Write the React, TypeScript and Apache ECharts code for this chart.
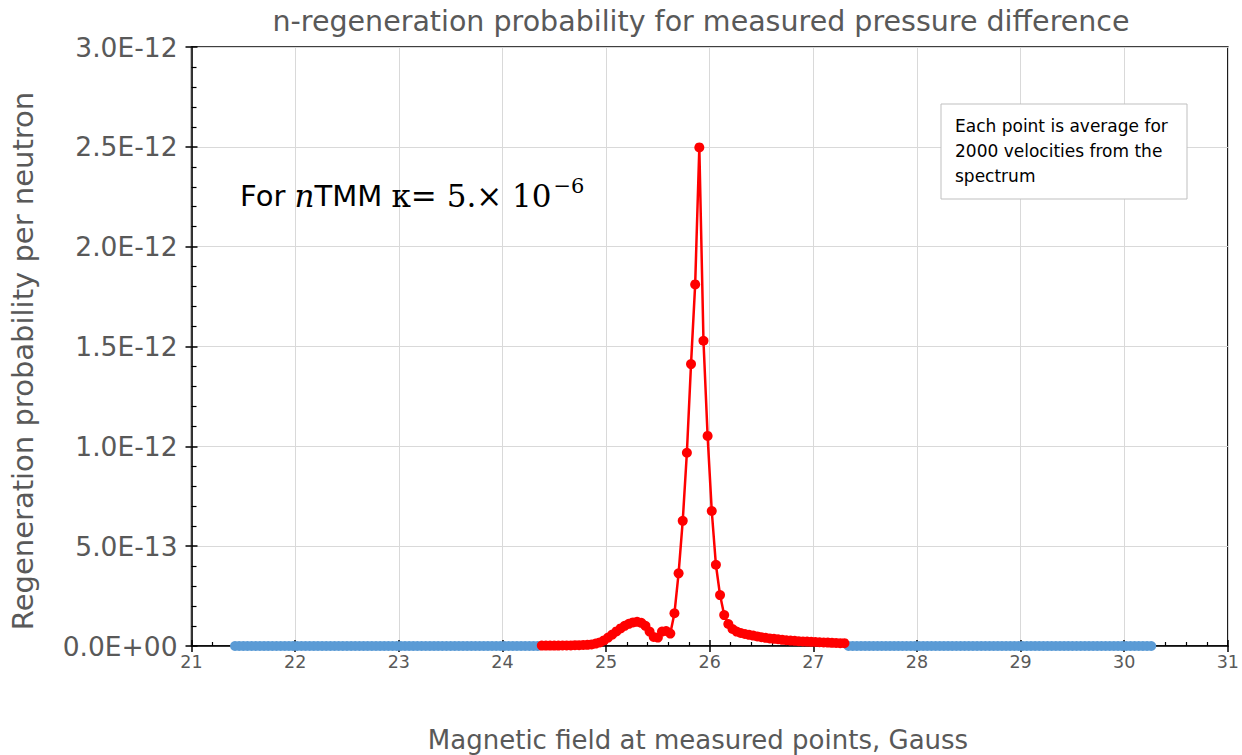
import React, { useEffect, useRef } from "react";
import * as echarts from "echarts";

// Magnetic field grid (Gauss): points every 0.04 G
const fieldStep = 0.04;
const redStart = 24.38;
const blueLeftStart = 21.42;
const blueRightStart = 27.34;

// Regeneration probability per neutron, in units of 1E-12
const redValues = [
  0.002, 0.002, 0.002, 0.002, 0.002, 0.003, 0.003, 0.003, 0.004, 0.004,
  0.005, 0.006, 0.008, 0.012, 0.018, 0.028, 0.042, 0.057, 0.073, 0.088,
  0.101, 0.111, 0.118, 0.121, 0.116, 0.101, 0.072, 0.045, 0.042, 0.072,
  0.075, 0.062, 0.164, 0.364, 0.627, 0.968, 1.412, 1.811, 2.497, 1.529,
  1.052, 0.676, 0.407, 0.255, 0.155, 0.110, 0.085, 0.072, 0.065, 0.060,
  0.056, 0.052, 0.048, 0.044, 0.041, 0.038, 0.036, 0.034, 0.031, 0.029,
  0.027, 0.026, 0.024, 0.023, 0.022, 0.021, 0.020, 0.019, 0.018, 0.017,
  0.016, 0.015, 0.014, 0.014,
];
const blueLeftValues = [
  0, 0, 0, 0, 0, 0, 0, 0, 0, 0, 0, 0, 0, 0, 0, 0, 0, 0, 0, 0, 0, 0, 0, 0, 0,
  0, 0, 0, 0, 0, 0, 0, 0, 0, 0, 0, 0, 0, 0, 0, 0, 0, 0, 0, 0, 0, 0, 0, 0, 0,
  0, 0, 0, 0, 0, 0, 0, 0, 0, 0, 0, 0, 0, 0, 0, 0, 0, 0, 0, 0, 0, 0, 0, 0,
];
const blueRightValues = [
  0, 0, 0, 0, 0, 0, 0, 0, 0, 0, 0, 0, 0, 0, 0, 0, 0, 0, 0, 0, 0, 0, 0, 0, 0,
  0, 0, 0, 0, 0, 0, 0, 0, 0, 0, 0, 0, 0, 0, 0, 0, 0, 0, 0, 0, 0, 0, 0, 0, 0,
  0, 0, 0, 0, 0, 0, 0, 0, 0, 0, 0, 0, 0, 0, 0, 0, 0, 0, 0, 0, 0, 0, 0, 0,
];

const titleText = "n-regeneration probability for measured pressure difference";
const xName = "Magnetic field at measured points, Gauss";
const yName = "Regeneration probability per neutron";
const noteLines = ["Each point is average for", "2000 velocities from the", "spectrum"];

const toPairs = (start: number, vals: number[]) =>
  vals.map((v, i) => [+(start + i * fieldStep).toFixed(2), v]);

const FONT = "DejaVu Sans";
const GREY = "#595959";

export default function App() {
  const ref = useRef<HTMLDivElement>(null);
  useEffect(() => {
    document.body.style.margin = "0";
    const chart = echarts.init(ref.current!, null, { renderer: "svg" });
    const yFmt = (v: number) =>
      v === 0 ? "0.0E+00" : (v * 1e-12).toExponential(1).toUpperCase();
    const blueStyle = {
      type: "line",
      xAxisIndex: 0,
      yAxisIndex: 0,
      symbol: "circle",
      symbolSize: 10,
      itemStyle: { color: "#5B9BD5" },
      lineStyle: { color: "#5B9BD5", width: 2 },
      z: 3,
    };
    chart.setOption({
      animation: false,
      backgroundColor: "#fff",
      title: {
        text: titleText,
        left: 696,
        top: 2,
        textAlign: "center",
        textStyle: { fontFamily: FONT, fontSize: 28.5, fontWeight: "normal", color: GREY },
      },
      grid: {
        left: 191.5,
        right: 14,
        top: 47,
        bottom: 109,
        show: true,
        borderColor: "#000",
        borderWidth: 1.5,
        backgroundColor: "transparent",
      },
      xAxis: [
        {
          type: "value",
          min: 21,
          max: 31,
          interval: 1,
          position: "bottom",
          axisLine: { onZero: false, lineStyle: { color: "#000", width: 1.5 } },
          axisTick: { show: true, inside: false, length: 6, lineStyle: { color: "#000", width: 1.5 } },
          axisLabel: { fontFamily: FONT, fontSize: 17.5, color: GREY, margin: 7 },
          splitLine: { show: true, lineStyle: { color: "#D9D9D9", width: 1 } },
        },
        {
          type: "value",
          min: 21,
          max: 31,
          interval: 1,
          position: "bottom",
          axisLine: { show: false, onZero: false },
          axisTick: { show: true, inside: true, length: 6, lineStyle: { color: "#000", width: 1.5 } },
          minorTick: { show: true, splitNumber: 5, length: 4, lineStyle: { color: "#000", width: 1.2 } },
          axisLabel: { show: false },
          splitLine: { show: false },
        },
      ],
      yAxis: [
        {
          type: "value",
          min: 0,
          max: 3,
          interval: 0.5,
          position: "left",
          axisLine: { show: true, onZero: false, lineStyle: { color: "#000", width: 1.5 } },
          axisTick: { show: true, inside: false, length: 6, lineStyle: { color: "#000", width: 1.5 } },
          axisLabel: { fontFamily: FONT, fontSize: 26.5, color: GREY, margin: 14, formatter: yFmt },
          splitLine: { show: true, lineStyle: { color: "#D9D9D9", width: 1 } },
        },
        {
          type: "value",
          min: 0,
          max: 3,
          interval: 0.5,
          position: "left",
          offset: 0,
          axisLine: { show: false, onZero: false },
          axisTick: { show: true, inside: true, length: 6, lineStyle: { color: "#000", width: 1.5 } },
          minorTick: { show: true, splitNumber: 5, length: 5, lineStyle: { color: "#000", width: 1.2 } },
          axisLabel: { show: false },
          splitLine: { show: false },
        },
      ],
      series: [
        { ...blueStyle, name: "blueLeft", data: toPairs(blueLeftStart, blueLeftValues) },
        { ...blueStyle, name: "blueRight", data: toPairs(blueRightStart, blueRightValues) },
        {
          type: "line",
          name: "red",
          xAxisIndex: 0,
          yAxisIndex: 0,
          symbol: "circle",
          symbolSize: 10,
          itemStyle: { color: "#FF0000" },
          lineStyle: { color: "#FF0000", width: 2.5 },
          data: toPairs(redStart, redValues),
          z: 4,
        },
      ],
      graphic: [
        {
          type: "text",
          x: 698,
          y: 740,
          style: {
            text: xName,
            fontFamily: FONT,
            fontSize: 26,
            fill: GREY,
            align: "center",
            verticalAlign: "middle",
          },
        },
        {
          type: "text",
          x: 23,
          y: 361,
          rotation: Math.PI / 2,
          style: {
            text: yName,
            fontFamily: FONT,
            fontSize: 29,
            fill: GREY,
            align: "center",
            verticalAlign: "middle",
          },
        },
        {
          type: "rect",
          shape: { x: 941, y: 104, width: 246, height: 95 },
          style: { fill: "#fff", stroke: "#BFBFBF", lineWidth: 1 },
          z: 10,
        },
        ...noteLines.map((t, i) => ({
          type: "text",
          x: 955,
          y: 126 + i * 25,
          style: {
            text: t,
            fontFamily: FONT,
            fontSize: 17,
            fill: "#000",
            verticalAlign: "middle",
          },
          z: 11,
        })),
        {
          type: "text",
          x: 240,
          y: 196,
          style: {
            text: "{a|For }{n|n}{a|TMM }{c|κ= 5.× 10}{s|−6}",
            verticalAlign: "middle",
            rich: {
              a: { fontFamily: FONT, fontSize: 29, color: "#000" },
              n: { fontFamily: "DejaVu Serif", fontStyle: "italic", fontSize: 31, color: "#000" },
              c: { fontFamily: "DejaVu Serif", fontSize: 31, color: "#000" },
              s: { fontFamily: "DejaVu Serif", fontSize: 21, color: "#000", padding: [0, 0, 20, 2] },
            },
          },
          z: 11,
        },
      ],
    });
    return () => chart.dispose();
  }, []);
  return <div ref={ref} style={{ width: 1242, height: 755 }} />;
}
